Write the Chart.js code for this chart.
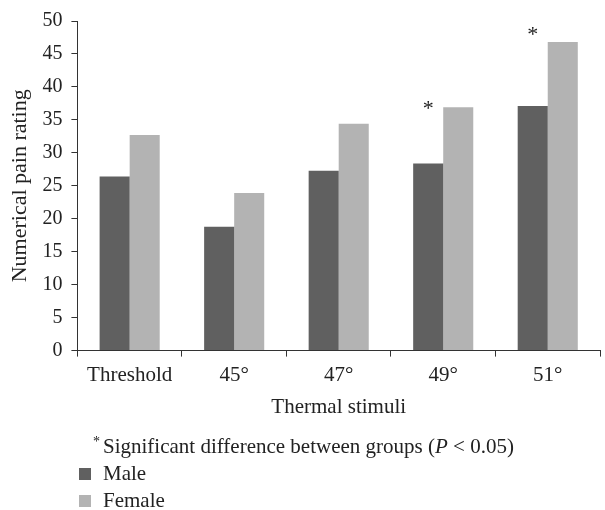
<!DOCTYPE html>
<html>
<head>
<meta charset="utf-8">
<script src="https://cdn.jsdelivr.net/npm/chart.js@4.4.1/dist/chart.umd.min.js"></script>
<style>
  body { margin: 0; background: #fff; }
  #wrap { width: 605px; height: 510px; }
</style>
</head>
<body>
<div id="wrap"><canvas id="chart" width="605" height="510"></canvas></div>
<script>
const categories = ['Threshold', '45°', '47°', '49°', '51°'];
const male = [26.4, 18.8, 27.3, 28.4, 37.1];
const female = [32.7, 23.9, 34.4, 36.9, 46.8];
// where the "*" marks sit, in rating units (null = no mark)
const starLevels = [null, null, null, 36.9, 48.2];
const footnote = 'Significant difference between groups (';

const serif = "'Liberation Serif', 'Times New Roman', serif";
Chart.defaults.font.family = serif;
Chart.defaults.font.size = 21;
Chart.defaults.color = '#222';

const extras = {
  id: 'extras',
  afterDatasetsDraw(chart) {
    const ctx = chart.ctx;
    const y = chart.scales.y;
    const meta = chart.getDatasetMeta(0);
    ctx.save();
    ctx.fillStyle = '#222';
    ctx.textAlign = 'center';
    ctx.textBaseline = 'middle';
    ctx.font = '22px ' + serif;
    starLevels.forEach((v, i) => {
      if (v == null) return;
      ctx.fillText('*', meta.data[i].x, y.getPixelForValue(v) + 2);
    });

    // footnote
    ctx.textAlign = 'left';
    ctx.textBaseline = 'alphabetic';
    ctx.font = '14px ' + serif;
    ctx.fillText('*', 93, 446);
    let x = 103;
    ctx.font = '21px ' + serif;
    ctx.fillText(footnote, x, 453);
    x += ctx.measureText(footnote).width;
    ctx.font = 'italic 21px ' + serif;
    ctx.fillText('P', x, 453);
    x += ctx.measureText('P').width;
    ctx.font = '21px ' + serif;
    ctx.fillText(' < 0.05)', x, 453);

    // legend
    chart.data.datasets.forEach((ds, i) => {
      const top = 468 + i * 27;
      ctx.fillStyle = ds.backgroundColor;
      ctx.fillRect(79, top, 12, 12);
      ctx.fillStyle = '#222';
      ctx.fillText(ds.label, 103, top + 12);
    });
    ctx.restore();
  }
};

new Chart(document.getElementById('chart'), {
  type: 'bar',
  data: {
    labels: categories,
    datasets: [
      { label: 'Male', data: male, backgroundColor: '#606060' },
      { label: 'Female', data: female, backgroundColor: '#b3b3b3' }
    ]
  },
  options: {
    responsive: false,
    animation: false,
    layout: { padding: { left: 5, right: 5, top: 3, bottom: 90 } },
    datasets: { bar: { categoryPercentage: 0.575, barPercentage: 1 } },
    plugins: { legend: { display: false }, tooltip: { enabled: false } },
    scales: {
      x: {
        grid: { offset: true, drawOnChartArea: false, color: '#333', tickLength: 6 },
        border: { color: '#333', width: 1 },
        ticks: { padding: 6, color: '#222' },
        title: { display: true, text: 'Thermal stimuli', color: '#222', padding: { top: 1, bottom: 0 } }
      },
      y: {
        min: 0,
        max: 50,
        ticks: { stepSize: 5, padding: 9, color: '#222', font: { size: 20 } },
        grid: { drawOnChartArea: false, color: '#333', tickLength: 6 },
        border: { color: '#333', width: 1 },
        title: { display: true, text: 'Numerical pain rating', color: '#222', font: { size: 22 }, padding: { top: 2, bottom: 0 } }
      }
    }
  },
  plugins: [extras]
});
</script>
</body>
</html>
